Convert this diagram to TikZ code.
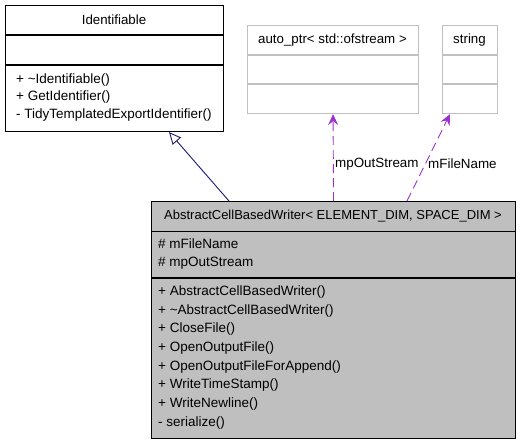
\documentclass[tikz,border=0pt]{standalone}
\usepackage{fontspec}
\setmainfont{Liberation Sans}
\usetikzlibrary{arrows.meta,calc}
\definecolor{umlgray}{HTML}{BFBFBF}
\definecolor{lightborder}{HTML}{C0C0C0}
\definecolor{usepurple}{HTML}{9A32CD}
\definecolor{inhnavy}{HTML}{191970}
\tikzset{
  classbox/.style={draw=black, line width=1.1pt, anchor=north west, inner sep=0pt},
  extbox/.style={draw=lightborder, line width=1.1pt, anchor=north west, inner sep=0pt},
  mainbox/.style={draw=black, fill=umlgray, line width=1.1pt, anchor=north west, inner sep=0pt},
  member/.style={anchor=west, inner sep=0pt, font=\fontsize{13.5}{15}\selectfont},
  ctitle/.style={anchor=center, inner sep=0pt, font=\fontsize{13.3}{15}\selectfont},
  maintitle/.style={anchor=center, inner sep=0pt, font=\fontsize{13}{15}\selectfont},
  inherit/.style={draw=inhnavy, line width=0.9pt, -{Triangle[open, length=12pt, width=11pt]}},
  usage/.style={draw=usepurple, line width=0.9pt, dash pattern=on 9pt off 5pt, -{Stealth[length=11pt, width=10pt, inset=4pt, fill=usepurple]}},
  elabel/.style={anchor=west, inner sep=0pt, font=\fontsize{13.4}{15}\selectfont}
}
\begin{document}
\begin{tikzpicture}[x=1pt, y=-1pt]
\useasboundingbox (0,0) rectangle (520,445);
% Identifiable
\node[classbox, minimum width=218pt, minimum height=126pt] (ident) at (5,5) {};
\draw[line width=1.1pt] (5,35) -- (223,35);
\draw[line width=1.1pt] (5,65) -- (223,65);
\node[ctitle] (identT) at (114,20) {Identifiable};
\node[member] (i1) at (16,80) {+ \textasciitilde Identifiable()};
\node[member] (i2) at (16,97.5) {+ GetIdentifier()};
\node[member] (i3) at (16,115) {- TidyTemplatedExportIdentifier()};
% auto_ptr
\node[extbox, minimum width=171pt, minimum height=88pt] (auto) at (247,25) {};
\draw[draw=lightborder, line width=1.1pt] (247,55) -- (418,55);
\draw[draw=lightborder, line width=1.1pt] (247,84) -- (418,84);
\node[ctitle] (autoT) at (332.5,40) {auto\_ptr< std::ofstream >};
% string
\node[extbox, minimum width=55pt, minimum height=88pt] (str) at (442,25) {};
\draw[draw=lightborder, line width=1.1pt] (442,55) -- (497,55);
\draw[draw=lightborder, line width=1.1pt] (442,84) -- (497,84);
\node[ctitle] (strT) at (469.5,40) {string};
% main class
\node[mainbox, minimum width=364pt, minimum height=237pt] (main) at (151,201) {};
\draw[line width=1.1pt] (151,231.5) -- (515,231.5);
\draw[line width=1.1pt] (151,278) -- (515,278);
\node[maintitle] (mainT) at (333,216) {AbstractCellBasedWriter< ELEMENT\_DIM, SPACE\_DIM >};
\node[member] (a1) at (158,244) {\# mFileName};
\node[member] (a2) at (158,263) {\# mpOutStream};
\node[member] (m1) at (158,292) {+ AbstractCellBasedWriter()};
\node[member] (m2) at (158,310.7) {+ \textasciitilde AbstractCellBasedWriter()};
\node[member] (m3) at (158,329.4) {+ CloseFile()};
\node[member] (m4) at (158,348.1) {+ OpenOutputFile()};
\node[member] (m5) at (158,366.8) {+ OpenOutputFileForAppend()};
\node[member] (m6) at (158,385.5) {+ WriteTimeStamp()};
\node[member] (m7) at (158,404.2) {+ WriteNewline()};
\node[member] (m8) at (158,423) {- serialize()};
% connectors
\draw[inherit] ($(main.north west)+(78,0)$) -- ($(ident.south west)+(164,0)$);
\draw[usage] (main.north) -- (auto.south);
\draw[usage] ($(main.north west)+(256,0)$) -- ($(str.south west)+(8,0)$);
\node[elabel] (l1) at (335,164) {mpOutStream};
\node[elabel] (l2) at (428,164) {mFileName};
\end{tikzpicture}
\end{document}
